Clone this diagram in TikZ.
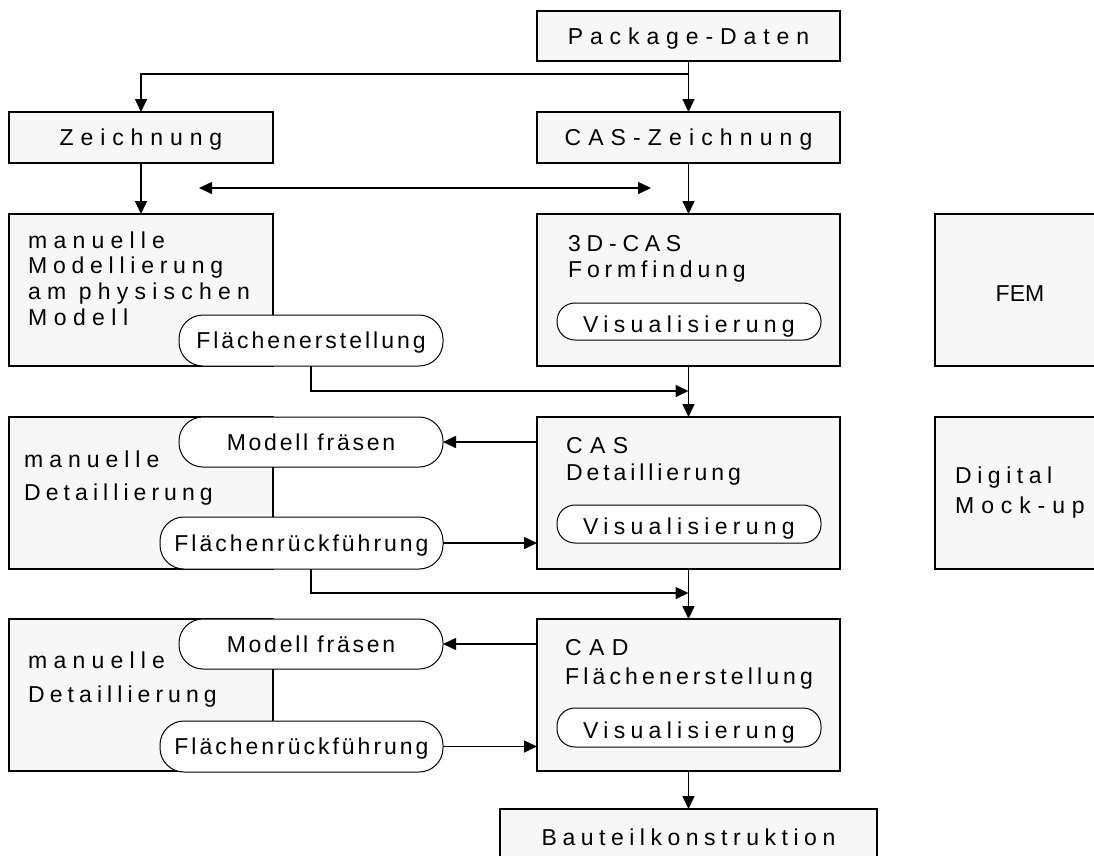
\documentclass[tikz,border=0pt]{standalone}
\usepackage{fontspec}
\setmainfont{Liberation Sans}
\usetikzlibrary{arrows.meta}
\definecolor{boxfill}{RGB}{247,247,247}
\newcommand\lspc[2]{{\addfontfeatures{LetterSpace=#1}#2}}
\begin{document}
\begin{tikzpicture}[x=1pt,y=-1pt,
  box/.style={draw, line width=2pt, fill=boxfill, inner sep=0pt, outer sep=0pt, anchor=north west},
  fnt/.style={font=\fontsize{23}{27}\selectfont},
  pill/.style={draw, line width=1pt, fill=white, inner sep=0pt, outer sep=0pt, rounded corners=24pt,
    anchor=north west, fnt, text height=16.5pt, text depth=0pt},
  vispill/.style={pill, rounded corners=18pt, text height=21.5pt},
  single/.style={box, fnt, text height=16.5pt, text depth=0pt},
  txt/.style={anchor=base west, inner sep=0pt, fnt},
  arr/.style={line width=1.6pt, -{Triangle[length=13pt,width=12pt]}},
  dbl/.style={line width=1.6pt, {Triangle[length=13pt,width=12pt]}-{Triangle[length=13pt,width=12pt]}}
]
\useasboundingbox (0,0) rectangle (1094,855);
\clip (0,0) rectangle (1094,855);

% single-line boxes
\node[single, minimum width=303pt, minimum height=50pt] (pkg) at (537,11) {\lspc{30}{Package-Daten}};
\node[single, minimum width=264pt, minimum height=51pt] (zeich) at (9,112) {\lspc{30}{Zeichnung}};
\node[single, minimum width=303pt, minimum height=51pt] (casz) at (537,112) {\lspc{31}{CAS-Zeichnung}};
\node[single, minimum width=377pt, minimum height=57pt] (baut) at (500,809) {\lspc{24}{Bauteilkonstruktion}};

% large boxes
\node[box, minimum width=264pt, minimum height=152pt] (mm) at (9,214) {};
\node[box, minimum width=303pt, minimum height=152pt] (cas3d) at (537,214) {};
\node[box, minimum width=175pt, minimum height=152pt] (fem) at (935,214) {};
\node[box, minimum width=264pt, minimum height=152pt] (md1) at (9,417) {};
\node[box, minimum width=303pt, minimum height=152pt] (casd) at (537,417) {};
\node[box, minimum width=175pt, minimum height=152pt] (dmu) at (935,417) {};
\node[box, minimum width=264pt, minimum height=152pt] (md2) at (9,619) {};
\node[box, minimum width=303pt, minimum height=152pt] (cadf) at (537,619) {};

% box texts
\node[txt] (mmt) at (28,248) {\vtop{\baselineskip=25.7pt
  \hbox{\lspc{27}{manuelle}}\hbox{\lspc{25}{Modellierung}}\hbox{\lspc{27}{am physischen}}\hbox{\lspc{28}{Modell}}}};
\node[txt] (cas3dt) at (568,251) {\vtop{\baselineskip=26pt
  \hbox{\lspc{25}{3D-CAS}}\hbox{\lspc{21}{Formfindung}}}};
\node[anchor=base, inner sep=0pt, fnt] (femt) at (1020,301.7) {FEM};
\node[txt] (md1t) at (24,467) {\vtop{\baselineskip=33pt
  \hbox{\lspc{26}{manuelle}}\hbox{\lspc{22}{Detaillierung}}}};
\node[txt] (casdt) at (566,453) {\vtop{\baselineskip=27pt
  \hbox{\lspc{32}{CAS}}\hbox{\lspc{17}{Detaillierung}}}};
\node[txt] (dmut) at (955,483) {\vtop{\baselineskip=30.5pt
  \hbox{\lspc{24}{Digital}}\hbox{\lspc{30}{Mock-up}}}};
\node[txt] (md2t) at (28,668) {\vtop{\baselineskip=34pt
  \hbox{\lspc{27}{manuelle}}\hbox{\lspc{22}{Detaillierung}}}};
\node[txt] (cadft) at (565,655) {\vtop{\baselineskip=29pt
  \hbox{\lspc{32}{CAD}}\hbox{\lspc{18}{Flächenerstellung}}}};

% pills
\node[pill, minimum width=264pt, minimum height=51pt] (fl1) at (179,315) {\lspc{13}{Flächenerstellung}};
\node[vispill, minimum width=264pt, minimum height=37pt] (vis1) at (557,303) {\lspc{23}{Visualisierung}};
\node[pill, minimum width=264pt, minimum height=50pt] (mf1) at (179,417) {\lspc{12}{Modell fräsen}};
\node[pill, minimum width=283pt, minimum height=52pt] (fr1) at (160,517) {\lspc{13}{Flächenrückführung}};
\node[vispill, minimum width=264pt, minimum height=38pt] (vis2) at (557,505) {\lspc{23}{Visualisierung}};
\node[pill, minimum width=264pt, minimum height=50pt] (mf2) at (179,619) {\lspc{12}{Modell fräsen}};
\node[pill, minimum width=283pt, minimum height=51pt] (fr2) at (160,721) {\lspc{13}{Flächenrückführung}};
\node[vispill, minimum width=264pt, minimum height=39pt] (vis3) at (557,708) {\lspc{23}{Visualisierung}};

% connectors
\coordinate (split) at (688.5,74);
\draw[arr] (pkg.south) -- (casz.north);
\draw[arr] (split) -| (zeich.north);
\draw[arr] (zeich.south) -- (mm.north);
\coordinate (dl) at (199,188);
\coordinate (dr) at (651,188);
\draw[dbl] (dl) -- (dr);
\draw[arr] (casz.south) -- (cas3d.north);

\coordinate (j1) at (688.5,391);
\draw[arr] (fl1.south) |- (j1);
\draw[arr] (cas3d.south) -- (casd.north);

\draw[arr] (mf1.east -| casd.west) -- (mf1.east);
\draw[arr] (fr1.east) -- (fr1.east -| casd.west);
\coordinate (j2) at (688.5,593);
\draw[arr] (fl1.south |- fr1.south) |- (j2);
\draw[arr] (casd.south) -- (cadf.north);

\draw[arr] (mf2.east -| cadf.west) -- (mf2.east);
\draw[arr] (fr2.east) -- (fr2.east -| cadf.west);
\draw[arr] (cadf.south) -- (baut.north);
\end{tikzpicture}
\end{document}
